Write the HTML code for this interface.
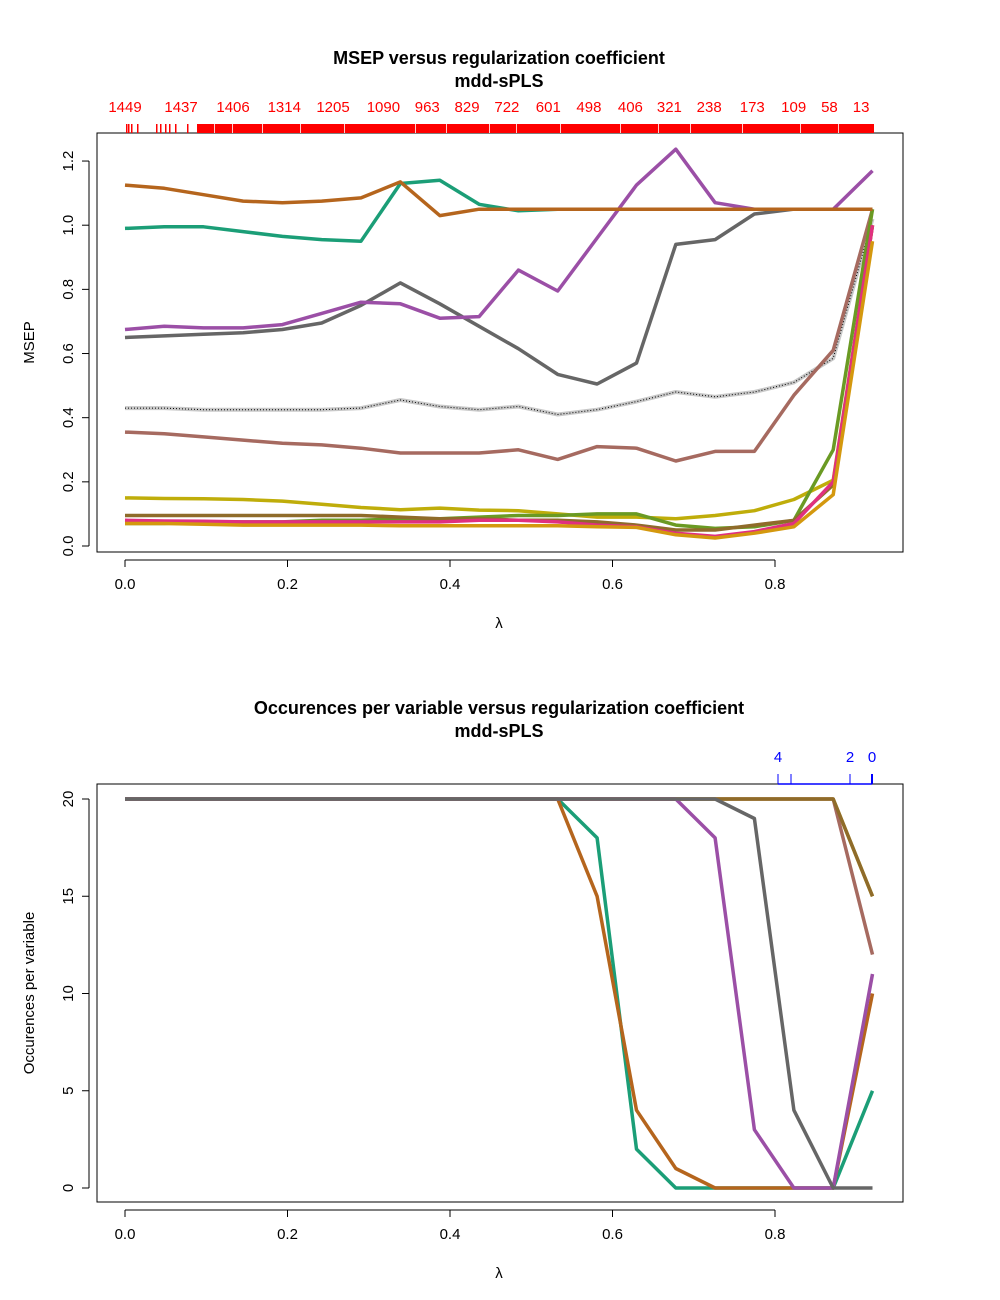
<!DOCTYPE html>
<html><head><meta charset="utf-8"><style>
body{margin:0;background:#fff;}
svg{display:block;font-family:"Liberation Sans",Arial,sans-serif;}
</style></head><body>
<svg id="chart" width="1000" height="1300" viewBox="0 0 1000 1300"></svg>
<script>
const lambdas = [0,0.0484,0.0968,0.1453,0.1937,0.2421,0.2905,0.3389,0.3874,0.4358,0.4842,0.5326,0.5811,0.6295,0.6779,0.7263,0.7747,0.8232,0.8716,0.92];
const msepOrangeBrown = [1.125,1.115,1.095,1.075,1.07,1.075,1.085,1.135,1.03,1.05,1.05,1.05,1.05,1.05,1.05,1.05,1.05,1.05,1.05,1.05];
const msepTeal = [0.99,0.995,0.995,0.98,0.965,0.955,0.95,1.13,1.14,1.065,1.045,1.05,1.05,1.05,1.05,1.05,1.05,1.05,1.05,1.05];
const msepPurple = [0.675,0.685,0.68,0.68,0.69,0.725,0.76,0.755,0.71,0.715,0.86,0.795,0.96,1.125,1.237,1.07,1.05,1.05,1.05,1.17];
const msepGray = [0.65,0.655,0.66,0.665,0.675,0.695,0.75,0.82,0.755,0.685,0.615,0.535,0.505,0.57,0.94,0.955,1.035,1.05,1.05,1.05];
const msepMean = [0.43,0.43,0.425,0.425,0.425,0.425,0.43,0.455,0.435,0.425,0.435,0.41,0.425,0.45,0.48,0.465,0.48,0.51,0.585,1.02];
const msepRosy = [0.355,0.35,0.34,0.33,0.32,0.315,0.305,0.29,0.29,0.29,0.3,0.27,0.31,0.305,0.265,0.295,0.295,0.47,0.61,1.05];
const msepYellow = [0.15,0.148,0.147,0.145,0.14,0.13,0.12,0.113,0.118,0.112,0.11,0.1,0.09,0.09,0.085,0.095,0.11,0.145,0.205,1.0];
const msepGolden = [0.095,0.095,0.095,0.095,0.095,0.095,0.095,0.09,0.085,0.085,0.08,0.08,0.075,0.065,0.05,0.05,0.065,0.08,0.19,1.0];
const msepGreen = [0.07,0.07,0.075,0.075,0.075,0.08,0.08,0.085,0.085,0.09,0.095,0.095,0.1,0.1,0.065,0.055,0.06,0.08,0.3,1.05];
const msepPink = [0.08,0.078,0.077,0.075,0.075,0.075,0.075,0.075,0.075,0.08,0.08,0.075,0.065,0.06,0.04,0.03,0.045,0.07,0.2,1.0];
const msepOrange = [0.07,0.07,0.068,0.065,0.065,0.065,0.065,0.063,0.063,0.063,0.063,0.063,0.06,0.058,0.035,0.025,0.04,0.06,0.16,0.95];
const occOthers = [20,20,20,20,20,20,20,20,20,20,20,20,20,20,20,20,20,20,20,15];
const occRosy = [20,20,20,20,20,20,20,20,20,20,20,20,20,20,20,20,20,20,20,12];
const occGolden = [20,20,20,20,20,20,20,20,20,20,20,20,20,20,20,20,20,20,20,15];
const occTeal = [20,20,20,20,20,20,20,20,20,20,20,20,18,2,0,0,0,0,0,5];
const occOrangeBrown = [20,20,20,20,20,20,20,20,20,20,20,20,15,4,1,0,0,0,0,10];
const occPurple = [20,20,20,20,20,20,20,20,20,20,20,20,20,20,20,18,3,0,0,11];
const occGray = [20,20,20,20,20,20,20,20,20,20,20,20,20,20,20,20,19,4,0,0];
const xTicks = [0,0.2,0.4,0.6,0.8];
const msepTicks = [0,0.2,0.4,0.6,0.8,1.0,1.2];
const occTicks = [0,5,10,15,20];
const topLabels = ["1449","1437","1406","1314","1205","1090","963","829","722","601","498","406","321","238","173","109","58","13"];
const topLabelLambdas = [0,0.069,0.133,0.196,0.256,0.318,0.372,0.421,0.47,0.521,0.571,0.622,0.67,0.719,0.772,0.823,0.867,0.906];
const blueLabels = ["4","2","0"];
const blueLabelLambdas = [0.8037,0.8923,0.9194];
const blueTickLambdas = [0.8037,0.8197,0.8923,0.9194];

const NS="http://www.w3.org/2000/svg";
const svg=document.getElementById('chart');
function el(t,a,p){const e=document.createElementNS(NS,t);for(const k in a)e.setAttribute(k,a[k]);(p||svg).appendChild(e);return e;}
const X=v=>125+v*812.5;
const Y1=v=>546-v*320.8;
const Y2=v=>1188-v*19.45;

function frame(y0,y1,title1,title2,ty,yTicks,Yf,fmt,ylab,name){
  const g=el('g',{});
  
  
  const r=el('rect',{x:97,y:y0,width:806,height:y1-y0,fill:'none',stroke:'#000','stroke-width':1},g);
  
  let t=el('text',{x:499,y:ty,'text-anchor':'middle','font-size':18,'font-weight':'bold'},g);t.textContent=title1;
  
  t=el('text',{x:499,y:ty+23,'text-anchor':'middle','font-size':18,'font-weight':'bold'},g);t.textContent=title2;
  
  el('line',{x1:X(0),x2:X(0.8),y1:y1+8,y2:y1+8,stroke:'#000'},g);
  xTicks.forEach(v=>{el('line',{x1:X(v),x2:X(v),y1:y1+8,y2:y1+15,stroke:'#000'},g);
    const tt=el('text',{x:X(v),y:y1+37,'text-anchor':'middle','font-size':15},g);tt.textContent=v.toFixed(1);
    });
  t=el('text',{x:499,y:y1+76,'text-anchor':'middle','font-size':15},g);t.textContent='λ';
  
  el('line',{x1:89,x2:89,y1:Yf(yTicks[0]),y2:Yf(yTicks[yTicks.length-1]),stroke:'#000'},g);
  yTicks.forEach(v=>{const y=Yf(v);el('line',{x1:82,x2:89,y1:y,y2:y,stroke:'#000'},g);
    const tt=el('text',{x:73,y:y,'text-anchor':'middle','font-size':15,transform:`rotate(-90 73 ${y})`},g);tt.textContent=fmt(v);
    });
  const cy=(y0+y1)/2;
  t=el('text',{x:34,y:cy,'text-anchor':'middle','font-size':15,transform:`rotate(-90 34 ${cy})`},g);t.textContent=ylab;
  
  return g;
}
function line(g,vals,Yf,color,w,name,extra){
  const pts=vals.map((v,i)=>X(lambdas[i]).toFixed(1)+','+Yf(v).toFixed(1)).join(' ');
  const p=el('polyline',Object.assign({points:pts,fill:'none',stroke:color,'stroke-width':w,'stroke-linejoin':'round'},extra||{}),g);
  
}

// top
const g1=frame(133,552,'MSEP versus regularization coefficient','mdd-sPLS',64,msepTicks,Y1,v=>v.toFixed(1),'MSEP','msep-panel');
topLabels.forEach((s,i)=>{const t=el('text',{x:X(topLabelLambdas[i]),y:112,'text-anchor':'middle','font-size':15,fill:'#f00'},g1);t.textContent=s;
  });
const rug=el('g',{},g1);

[126,128,131,137,156,160,165,169,175,187].forEach(x=>el('rect',{x:x,y:124,width:1.5,height:9,fill:'#f00'},rug));
el('rect',{x:197,y:124,width:677,height:9,fill:'#f00'},rug);
[214,232,262,300,344,415,446,489,516,560,620,658,690,742,800,838].forEach(x=>el('rect',{x:x,y:124,width:0.8,height:9,fill:'#fff'},rug));
line(g1,msepMean,Y1,'#c8c8c8',4,'series-mean');
line(g1,msepMean,Y1,'#000',1,'series-mean-dotted',{'stroke-dasharray':'1,2'});
line(g1,msepRosy,Y1,'#a66a60',3.5,'series-rosy');
line(g1,msepYellow,Y1,'#bfad0a',3.5,'series-yellow');
line(g1,msepGreen,Y1,'#6a9a23',3.5,'series-green');
line(g1,msepGolden,Y1,'#8f6b2a',3.5,'series-golden');
line(g1,msepPink,Y1,'#e0307f',3.5,'series-pink');
line(g1,msepOrange,Y1,'#d4980e',3.5,'series-orange');
line(g1,msepGray,Y1,'#666666',3.5,'series-gray');
line(g1,msepPurple,Y1,'#9b4fa6',3.5,'series-purple');
line(g1,msepTeal,Y1,'#1b9e77',3.5,'series-teal');
line(g1,msepOrangeBrown,Y1,'#b5651d',3.5,'series-orange-brown');

// bottom
const g2=frame(784,1202,'Occurences per variable versus regularization coefficient','mdd-sPLS',714,occTicks,Y2,v=>String(v),'Occurences per variable','occurrence-panel');
el('line',{x1:X(blueTickLambdas[0]),x2:X(blueTickLambdas[3]),y1:784,y2:784,stroke:'#00f','stroke-width':1.5},g2);
blueTickLambdas.forEach((v,i)=>el('line',{x1:X(v),x2:X(v),y1:774,y2:784,stroke:'#00f','stroke-width':i==3?2:1},g2));
blueLabels.forEach((s,i)=>{const t=el('text',{x:X(blueLabelLambdas[i]),y:762,'text-anchor':'middle','font-size':15,fill:'#00f'},g2);t.textContent=s;
  });
line(g2,occOthers,Y2,'#bfad0a',3.5,'occ-yellow');
line(g2,occRosy,Y2,'#a66a60',3.5,'occ-rosy');
line(g2,occGolden,Y2,'#8f6b2a',3.5,'occ-golden');
line(g2,occTeal,Y2,'#1b9e77',3.5,'occ-teal');
line(g2,occOrangeBrown,Y2,'#b5651d',3.5,'occ-orange-brown');
line(g2,occPurple,Y2,'#9b4fa6',3.5,'occ-purple');
line(g2,occGray,Y2,'#666666',3.5,'occ-gray');
</script>
</body></html>
